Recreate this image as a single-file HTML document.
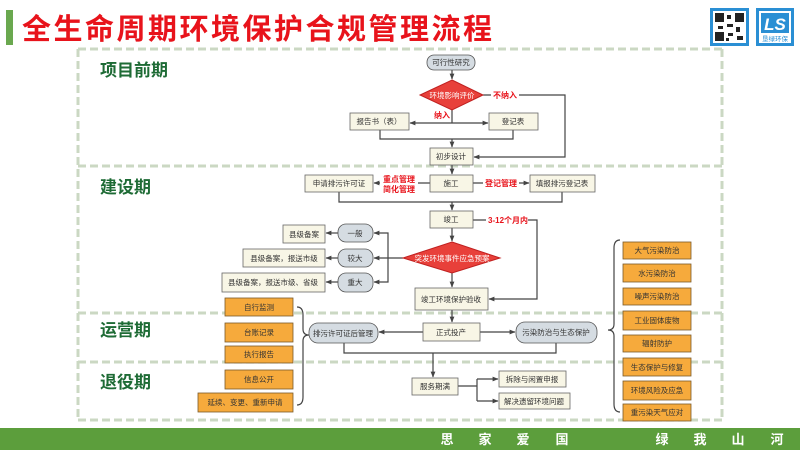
<!DOCTYPE html>
<html><head><meta charset="utf-8"><style>
html,body{margin:0;padding:0;background:#fff;}
svg{display:block;font-family:"Liberation Sans","Noto Sans CJK SC",sans-serif;}
</style></head><body>
<svg width="800" height="450" viewBox="0 0 800 450" xmlns="http://www.w3.org/2000/svg">
<defs>
<marker id="a" viewBox="0 0 10 10" refX="9" refY="5" markerWidth="5" markerHeight="5" orient="auto"><path d="M0,1 L10,5 L0,9 z" fill="#444"/></marker>
</defs>
<!-- header -->
<rect x="6" y="10" width="7" height="35" fill="#6aa84f"/>
<text x="22" y="39" font-size="29" font-weight="bold" fill="#e8131b" letter-spacing="2.5">全生命周期环境保护合规管理流程</text>
<rect x="710" y="8" width="39" height="38" fill="#2a8fd4"/>
<rect x="713" y="11" width="33" height="32" fill="#fff"/>
<g fill="#222">
<rect x="715" y="13" width="9" height="9"/><rect x="735" y="13" width="9" height="9"/><rect x="715" y="32" width="9" height="9"/>
<rect x="727" y="15" width="4" height="4"/><rect x="727" y="24" width="6" height="3"/><rect x="718" y="26" width="5" height="3"/><rect x="736" y="27" width="4" height="5"/><rect x="728" y="33" width="5" height="3"/><rect x="737" y="36" width="6" height="4"/><rect x="726" y="38" width="3" height="3"/>
</g>
<rect x="756" y="8" width="38" height="38" fill="#2a8fd4"/>
<rect x="759" y="11" width="32" height="32" fill="#fff"/>
<rect x="761" y="13" width="28" height="20" fill="#2a8fd4"/>
<text x="775" y="30" font-size="17" font-weight="bold" fill="#fff" text-anchor="middle" font-style="italic">LS</text>
<text x="775" y="41" font-size="6.5" fill="#2a8fd4" text-anchor="middle">垦绿环保</text>

<!-- dashed frame -->
<g stroke="#cbd8c3" stroke-width="3" stroke-dasharray="8,4" fill="none">
<line x1="78" y1="49" x2="722" y2="49"/>
<line x1="78" y1="166" x2="722" y2="166"/>
<line x1="78" y1="313" x2="722" y2="313"/>
<line x1="78" y1="362" x2="722" y2="362"/>
<line x1="78" y1="420" x2="722" y2="420"/>
<line x1="78" y1="49" x2="78" y2="420"/>
<line x1="722" y1="49" x2="722" y2="420"/>
</g>
<g font-size="17" font-weight="bold" fill="#1e6b35">
<text x="100" y="76">项目前期</text>
<text x="100" y="193">建设期</text>
<text x="100" y="336">运营期</text>
<text x="100" y="388">退役期</text>
</g>

<!-- connectors -->
<g stroke="#444" stroke-width="1.2" fill="none">
<line x1="452" y1="70" x2="452" y2="79" marker-end="url(#a)"/>
<polyline points="483,95 565,95 565,157 474,157" marker-end="url(#a)"/>
<line x1="452" y1="110" x2="452" y2="123"/>
<line x1="452" y1="123" x2="410" y2="123" marker-end="url(#a)"/>
<line x1="452" y1="123" x2="488" y2="123" marker-end="url(#a)"/>
<polyline points="380,130 380,139 513,139 513,130"/>
<line x1="452" y1="139" x2="452" y2="147" marker-end="url(#a)"/>
<line x1="452" y1="165" x2="452" y2="174" marker-end="url(#a)"/>
<line x1="430" y1="183" x2="374" y2="183" marker-end="url(#a)"/>
<line x1="473" y1="183" x2="529" y2="183" marker-end="url(#a)"/>
<polyline points="339,192 339,202 562,202 562,192"/>
<line x1="452" y1="202" x2="452" y2="210" marker-end="url(#a)"/>
<line x1="452" y1="228" x2="452" y2="241" marker-end="url(#a)"/>
<polyline points="473,220 537,220 537,299 489,299" marker-end="url(#a)"/>
<line x1="452" y1="273" x2="452" y2="287" marker-end="url(#a)"/>
<line x1="403" y1="258" x2="374" y2="258" marker-end="url(#a)"/>
<polyline points="388,258 388,233 374,233" marker-end="url(#a)"/>
<polyline points="388,258 388,282 374,282" marker-end="url(#a)"/>
<line x1="338" y1="233" x2="326" y2="233" marker-end="url(#a)"/>
<line x1="338" y1="258" x2="326" y2="258" marker-end="url(#a)"/>
<line x1="338" y1="282" x2="326" y2="282" marker-end="url(#a)"/>
<line x1="452" y1="310" x2="452" y2="322" marker-end="url(#a)"/>
<line x1="423" y1="332" x2="379" y2="332" marker-end="url(#a)"/>
<line x1="480" y1="332" x2="515" y2="332" marker-end="url(#a)"/>
<polyline points="344,343 344,353 556,353 556,343"/>
<line x1="433" y1="353" x2="433" y2="377" marker-end="url(#a)"/>
<line x1="458" y1="386" x2="477" y2="386"/>
<polyline points="477,379 477,401"/>
<line x1="477" y1="379" x2="498" y2="379" marker-end="url(#a)"/>
<line x1="477" y1="401" x2="498" y2="401" marker-end="url(#a)"/>
<!-- braces -->
<path d="M297,307 Q303,307 303,315 L303,329 Q303,335 309,335 Q303,335 303,341 L303,397 Q303,405 297,405"/>
<path d="M620,240 Q614,240 614,248 L614,324 Q614,330 608,330 Q614,330 614,336 L614,404 Q614,412 620,412"/>
</g>

<!-- red labels -->
<g fill="#fff">
<rect x="491" y="90" width="28" height="10"/>
<rect x="380" y="174" width="38" height="20"/>
<rect x="483" y="178" width="36" height="10"/>
<rect x="486" y="215" width="42" height="10"/>
</g>
<g font-size="8" font-weight="bold" fill="#e8131b">
<text x="493" y="98">不纳入</text>
<text x="434" y="118">纳入</text>
<text x="383" y="182">重点管理</text>
<text x="383" y="192">简化管理</text>
<text x="485" y="186">登记管理</text>
<text x="488" y="223">3-12个月内</text>
</g>

<!-- diamonds -->
<polygon points="452,80 483,95 452,110 420,95" fill="#e8403a" stroke="#c02020"/>
<text x="452" y="98" font-size="7.5" fill="#fff" text-anchor="middle">环境影响评价</text>
<polygon points="452,242 500,258 452,273 403,258" fill="#e8403a" stroke="#c02020"/>
<text x="452" y="261" font-size="7.5" fill="#fff" text-anchor="middle">突发环境事件应急预案</text>

<!-- beige boxes -->
<g fill="#f8f6e6" stroke="#666" stroke-width="0.8">
<rect x="350" y="113" width="59" height="17"/>
<rect x="489" y="113" width="49" height="17"/>
<rect x="430" y="148" width="43" height="17"/>
<rect x="305" y="175" width="68" height="17"/>
<rect x="430" y="175" width="43" height="17"/>
<rect x="530" y="175" width="65" height="17"/>
<rect x="430" y="211" width="43" height="17"/>
<rect x="283" y="225" width="42" height="18"/>
<rect x="243" y="249" width="82" height="18"/>
<rect x="222" y="273" width="103" height="19"/>
<rect x="415" y="288" width="73" height="22"/>
<rect x="423" y="323" width="57" height="18"/>
<rect x="412" y="378" width="46" height="17"/>
<rect x="499" y="371" width="67" height="16"/>
<rect x="499" y="393" width="71" height="16"/>
</g>
<!-- gray pills -->
<g fill="#d5dce2" stroke="#555" stroke-width="0.8">
<rect x="427" y="55" width="48" height="15" rx="7"/>
<rect x="338" y="224" width="35" height="18" rx="8"/>
<rect x="338" y="249" width="35" height="18" rx="8"/>
<rect x="338" y="273" width="35" height="19" rx="8"/>
<rect x="309" y="323" width="69" height="20" rx="9"/>
<rect x="516" y="322" width="81" height="21" rx="9"/>
</g>
<g font-size="7.5" fill="#333" text-anchor="middle">
<text x="451" y="65">可行性研究</text>
<text x="379" y="124">报告书（表）</text>
<text x="513" y="124">登记表</text>
<text x="451" y="159">初步设计</text>
<text x="339" y="186">申请排污许可证</text>
<text x="451" y="186">施工</text>
<text x="562" y="186">填报排污登记表</text>
<text x="451" y="222">竣工</text>
<text x="304" y="237">县级备案</text>
<text x="284" y="261">县级备案，报送市级</text>
<text x="273" y="285">县级备案，报送市级、省级</text>
<text x="355" y="236">一般</text>
<text x="355" y="261">较大</text>
<text x="355" y="285">重大</text>
<text x="451" y="302">竣工环境保护验收</text>
<text x="451" y="335">正式投产</text>
<text x="343" y="336">排污许可证后管理</text>
<text x="556" y="335">污染防治与生态保护</text>
<text x="435" y="389">服务期满</text>
<text x="532" y="382">拆除与闲置申报</text>
<text x="534" y="404">解决遗留环境问题</text>
</g>

<!-- orange boxes -->
<g fill="#f6aa3c" stroke="#7a5a2a" stroke-width="0.8">
<rect x="225" y="298" width="68" height="18"/>
<rect x="225" y="323" width="68" height="19"/>
<rect x="225" y="346" width="68" height="17"/>
<rect x="225" y="370" width="68" height="19"/>
<rect x="198" y="393" width="95" height="19"/>
<rect x="623" y="242" width="68" height="17"/>
<rect x="623" y="264" width="68" height="18"/>
<rect x="623" y="288" width="68" height="17"/>
<rect x="623" y="311" width="68" height="19"/>
<rect x="623" y="335" width="68" height="17"/>
<rect x="623" y="358" width="68" height="18"/>
<rect x="623" y="381" width="68" height="19"/>
<rect x="623" y="404" width="68" height="17"/>
</g>
<g font-size="7.5" fill="#333" text-anchor="middle">
<text x="259" y="310">自行监测</text>
<text x="259" y="335">台账记录</text>
<text x="259" y="357">执行报告</text>
<text x="259" y="382">信息公开</text>
<text x="245" y="405">延续、变更、重新申请</text>
<text x="657" y="253">大气污染防治</text>
<text x="657" y="276">水污染防治</text>
<text x="657" y="299">噪声污染防治</text>
<text x="657" y="323">工业固体废物</text>
<text x="657" y="346">辐射防护</text>
<text x="657" y="370">生态保护与修复</text>
<text x="657" y="393">环境风险及应急</text>
<text x="657" y="415">重污染天气应对</text>
</g>

<!-- footer -->
<rect x="0" y="428" width="800" height="22" fill="#5c9e3c"/>
<g font-size="13" font-weight="bold" fill="#fff" text-anchor="middle">
<text x="447" y="444">思</text><text x="485" y="444">家</text><text x="523" y="444">爱</text><text x="562" y="444">国</text>
<text x="662" y="444">绿</text><text x="700" y="444">我</text><text x="738" y="444">山</text><text x="777" y="444">河</text>
</g>
</svg>
</body></html>
